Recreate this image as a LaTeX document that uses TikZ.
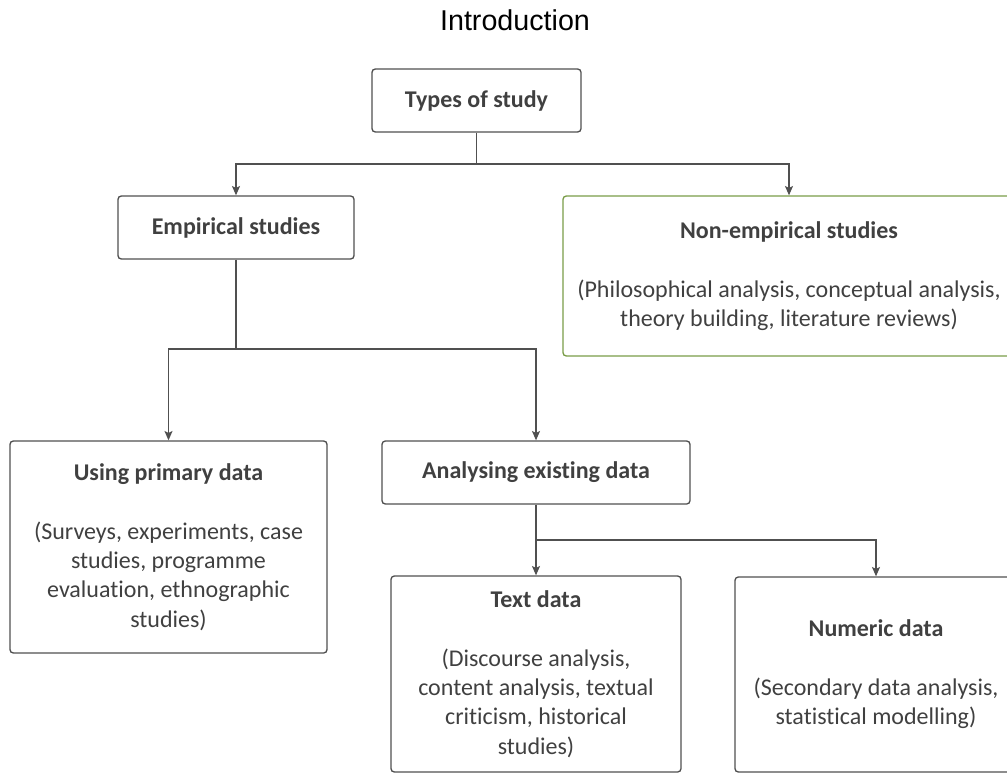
\documentclass[tikz,border=0pt]{standalone}
\usepackage{fontspec}
\setmainfont[Ligatures=NoCommon]{Carlito}
\newfontfamily\headfont{Liberation Sans}
\usepackage{tikz}
\usetikzlibrary{positioning, arrows.meta}
\usepackage{xcolor}

\definecolor{boxgrey}{RGB}{80,80,80}
\definecolor{textgrey}{RGB}{64,64,64}
\definecolor{olivegreen}{RGB}{122,156,72}

\tikzset{
    studybox/.style 2 args={draw=boxgrey, line width=1pt, rounded corners=2.5pt,
        align=center, text=textgrey, inner sep=0pt,
        font=\fontsize{18}{22}\selectfont,
        minimum width=#1*0.75pt, minimum height=#2*0.75pt},
    link/.style={draw=boxgrey, line width=1pt},
    linkarrow/.style={link, -{Stealth[length=7pt, width=6pt, inset=1.5pt]}}
}

\begin{document}
\begin{tikzpicture}[x=0.75pt, y=-0.75pt]
            \useasboundingbox (0,0) rectangle (1007,774);

            \node[font=\headfont\fontsize{21.5}{26}\selectfont] (title) at (515,20) {Introduction};

            \node[studybox={209}{63}] (types) at (476.5,100.5) {\textbf{Types of study}};
            \node[studybox={236}{63}] (emp) at (236,227.5) {\textbf{Empirical studies}};
            \node[studybox={452}{160}, draw=olivegreen] (nonemp) at (789,276)
                {\textbf{Non-empirical studies}\\[22pt]
                 (Philosophical analysis, conceptual analysis,\\
                 theory building, literature reviews)};

            \node[studybox={317}{212}] (primary) at (168.5,547)
                {\textbf{Using primary data}\\[22pt]
                 (Surveys, experiments, case\\ studies, programme\\
                 evaluation, ethnographic\\ studies)};
            \node[studybox={308}{63}] (existing) at (536,472.5) {\textbf{Analysing existing data}};

            \node[studybox={290}{196}] (textdata) at (536,674)
                {\textbf{Text data}\\[22pt]
                 (Discourse analysis,\\ content analysis, textual\\
                 criticism, historical\\ studies)};
            \node[studybox={282}{195}] (numeric) at (876,674.5)
                {\textbf{Numeric data}\\[22pt]
                 (Secondary data analysis,\\ statistical modelling)};

            \coordinate (J1) at (476.5,164);
            \coordinate (J2) at (236,349);
            \coordinate (J3) at (536,540);

            \draw[link] (types.south) -- (J1);
            \draw[linkarrow] (J1) -| (emp.north);
            \draw[linkarrow] (J1) -| (nonemp.north);

            \draw[link] (emp.south) -- (J2);
            \draw[linkarrow] (J2) -| (primary.north);
            \draw[linkarrow] (J2) -| (existing.north);

            \draw[link] (existing.south) -- (J3);
            \draw[linkarrow] (J3) -- (textdata.north);
            \draw[linkarrow] (J3) -| (numeric.north);
\end{tikzpicture}
\end{document}
